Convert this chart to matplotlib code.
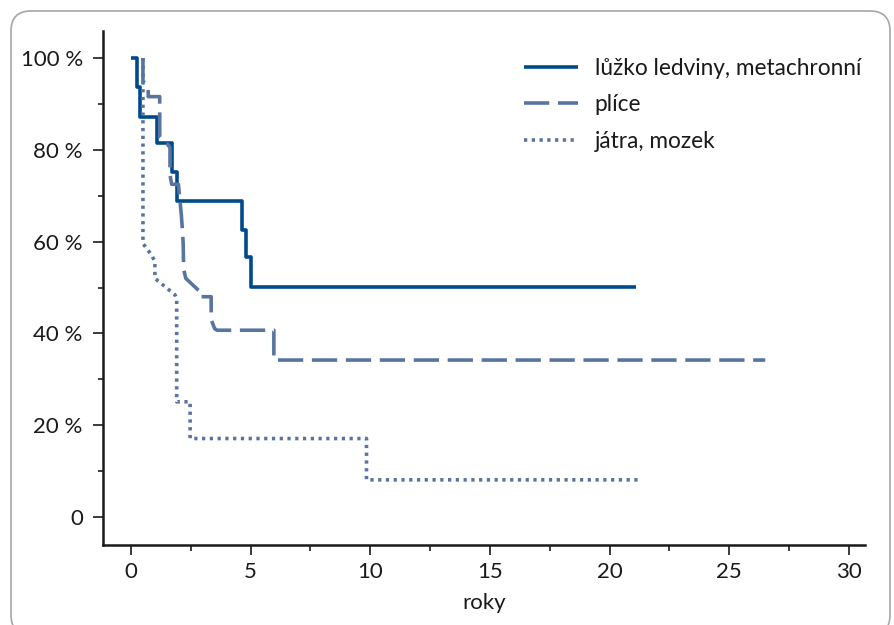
import matplotlib
matplotlib.use("Agg")
import matplotlib.pyplot as plt
from matplotlib.patches import FancyBboxPatch
from matplotlib.transforms import IdentityTransform
from matplotlib.ticker import FixedLocator, MultipleLocator

# Kaplan-Meier style curves (years, % surviving)
t_ledviny = [0, 0.26, 0.38, 1.07, 1.70, 1.91, 4.62, 4.79, 5.01, 21.1]
s_ledviny = [100, 93.8, 87.2, 81.6, 75.2, 68.8, 62.5, 56.6, 50.2, 50.2]

t_plice = [0.5, 0.5, 0.72, 0.72, 1.2, 1.2, 1.5, 1.63, 1.63, 1.7, 1.98, 2.1,
           2.15, 2.18, 2.2, 2.29, 2.88, 2.88, 3.35, 3.35, 3.5, 3.6, 5.97,
           5.97, 26.5]
s_plice = [100, 95, 93.8, 91.6, 91.6, 82.8, 81.4, 80.5, 74.5, 72.5, 72.5, 66,
           62.5, 59.6, 54, 52, 49.1, 48, 48, 43, 41, 40.7, 40.7,
           34.2, 34.2]

t_jatra = [0.5, 0.5, 0.86, 1.0, 1.0, 1.84, 1.91, 1.91, 2.47, 2.47, 9.84,
           9.84, 21.3]
s_jatra = [100, 59.6, 57.1, 55.6, 52, 48.4, 47.5, 25.1, 25.1, 17.1, 17.1,
           8.1, 8.1]

labels = ["lůžko ledviny, metachronní", "plíce", "játra, mozek"]
x_ticks = [0, 5, 10, 15, 20, 25, 30]
y_ticks = [0, 20, 40, 60, 80, 100]
y_ticklabels = ["0", "20 %", "40 %", "60 %", "80 %", "100 %"]

dark_blue = "#004a8c"
mid_blue = "#5a74a0"
ink = "#1a1a1a"

plt.rcParams["font.family"] = ["Lato", "DejaVu Sans"]

fig = plt.figure(figsize=(8.94, 6.25), dpi=100)
ax = fig.add_axes([0.1152, 0.128, 0.8524, 0.8224])

# outer rounded frame
frame = FancyBboxPatch((11, -10), 879, 624, boxstyle="round,pad=0,rounding_size=20",
                       transform=IdentityTransform(), facecolor="none",
                       edgecolor="#a6a6a6", linewidth=1.2)
fig.add_artist(frame)

ax.plot(t_ledviny, s_ledviny, drawstyle="steps-post", color=dark_blue,
        linewidth=2.6, label=labels[0], solid_capstyle="butt")
ax.plot(t_plice, s_plice, color=mid_blue, linewidth=2.6, dashes=(7, 2.4),
        label=labels[1], dash_capstyle="butt")
ax.plot(t_jatra, s_jatra, color=mid_blue, linewidth=2.6, dashes=(0.9, 1.25),
        label=labels[2], dash_capstyle="butt")

ax.set_xlim(-1.17, 30.67)
ax.set_ylim(-6.1, 105.9)

ax.xaxis.set_major_locator(FixedLocator(x_ticks))
ax.xaxis.set_minor_locator(MultipleLocator(2.5))
ax.yaxis.set_major_locator(FixedLocator(y_ticks))
ax.yaxis.set_minor_locator(MultipleLocator(10))
ax.set_yticklabels(y_ticklabels)

for side in ["top", "right"]:
    ax.spines[side].set_visible(False)
for side in ["left", "bottom"]:
    ax.spines[side].set_linewidth(1.8)
    ax.spines[side].set_color(ink)

ax.tick_params(which="major", length=7.5, width=1.2, labelsize=16,
               color=ink, labelcolor=ink)
ax.tick_params(axis="x", which="major", pad=5)
ax.tick_params(axis="y", which="major", pad=7)
ax.tick_params(which="minor", length=4, width=1.2, color=ink)
ax.tick_params(axis="y", which="minor", length=3.5)

ax.set_xlabel("roky", fontsize=16, color=ink, labelpad=8)

leg = ax.legend(loc="upper left", frameon=False, fontsize=16.3,
                handlelength=2.4, handletextpad=0.72, labelspacing=0.68,
                bbox_to_anchor=(0.5525, 0.948), borderpad=0, borderaxespad=0)
for txt in leg.get_texts():
    txt.set_color(ink)

fig.savefig("out.png", dpi=100)
